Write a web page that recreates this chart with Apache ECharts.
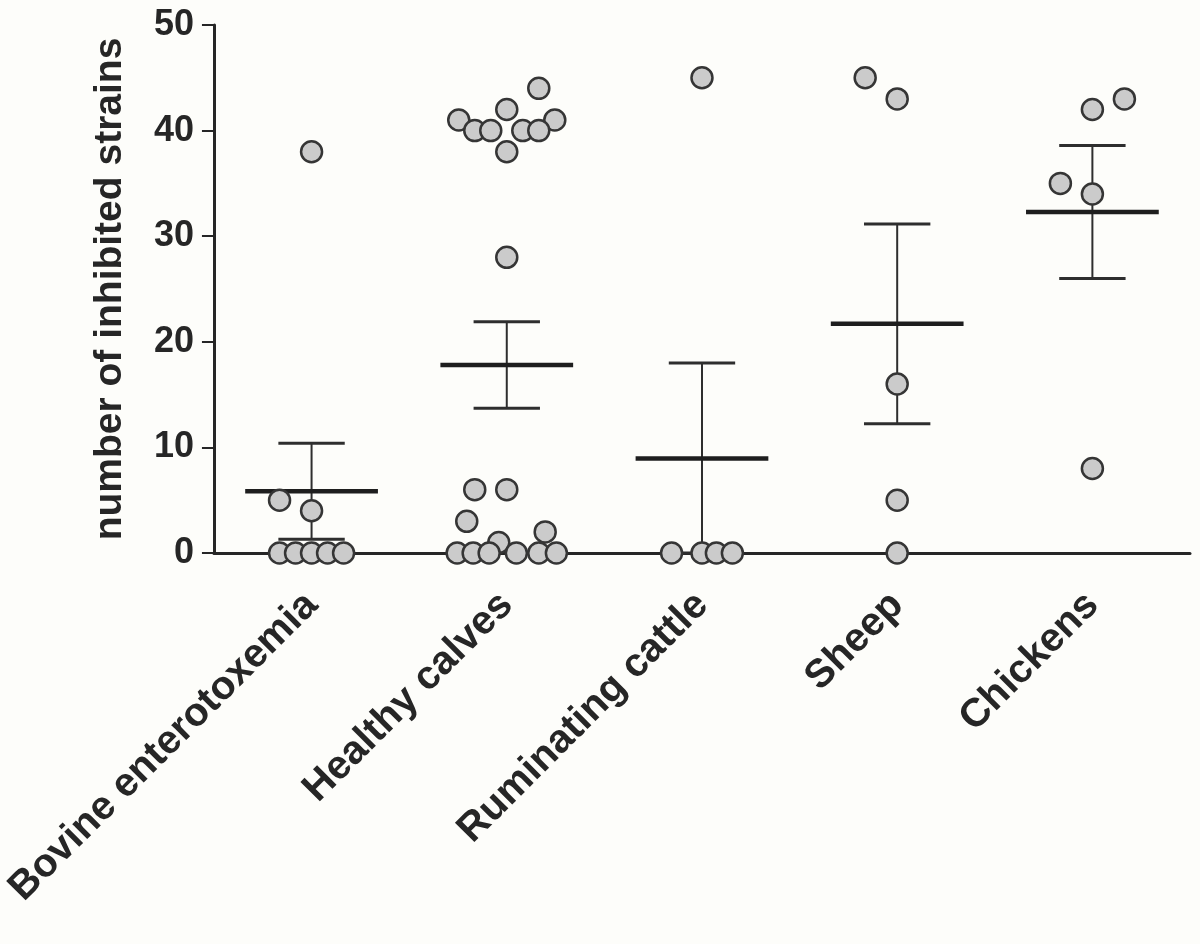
<!DOCTYPE html>
<html>
<head>
<meta charset="utf-8">
<title>Inhibited strains</title>
<script src="https://cdn.jsdelivr.net/npm/echarts@6/dist/echarts.min.js"></script>
<style>
  html, body { margin: 0; padding: 0; background: #fdfdfa; }
  #main { width: 1200px; height: 944px; }
</style>
</head>
<body>
<div id="main"></div>
<script>
// categories on the x axis
const categories = ['Bovine enterotoxemia', 'Healthy calves', 'Ruminating cattle', 'Sheep', 'Chickens']

// y axis range
const yMin = 0
const yMax = 50
const yStep = 10

// individual values per group, and where each dot sits sideways (in dot widths)
const bovineValues = [38, 5, 4, 0, 0, 0, 0, 0]
const bovineSlots = [0, -2, 0, -2, -1, 0, 1, 2]

const calvesValues = [44, 42, 41, 41, 40, 40, 40, 40, 38, 28, 6, 6, 3, 2, 1, 0, 0, 0, 0, 0, 0]
const calvesSlots = [2, 0, -3, 3, -2, -1, 1, 2, 0, 0, -2, 0, -2.5, 2.4, -0.5, -3.1, -2.1, -1.1, 0.6, 2, 3.1]

const cattleValues = [45, 0, 0, 0, 0]
const cattleSlots = [0, -1.9, 0, 0.9, 1.9]

const sheepValues = [45, 43, 16, 5, 0]
const sheepSlots = [-2, 0, 0, 0, 0]

const chickenValues = [43, 42, 35, 34, 8]
const chickenSlots = [2, 0, -2, 0, 0]

// mean and SEM per group, as drawn
const means = [5.85, 17.8, 8.95, 21.7, 32.3]
const sems = [4.55, 4.1, 9.05, 9.45, 6.3]

const groups = [
  [bovineValues, bovineSlots],
  [calvesValues, calvesSlots],
  [cattleValues, cattleSlots],
  [sheepValues, sheepSlots],
  [chickenValues, chickenSlots]
]

const dotStep = 0.082 // one dot width in category units
const points = []
groups.forEach((g, i) => {
  g[0].forEach((v, j) => {
    points.push([i + g[1][j] * dotStep, v])
  })
})

const errorData = means.map((m, i) => [i, m, sems[i]])

const textColor = '#262626'
const lineColor = '#262626'
const fontFamily = 'Liberation Sans, Arial, sans-serif'

const chart = echarts.init(document.getElementById('main'))
chart.setOption({
  backgroundColor: '#fdfdfa',
  animation: false,
  grid: { left: 212, right: 10, top: 25, bottom: 391 },
  xAxis: [
    {
      type: 'category',
      data: categories,
      boundaryGap: true,
      axisLine: { lineStyle: { color: lineColor, width: 3 } },
      axisTick: { alignWithLabel: true, length: 14, lineStyle: { color: lineColor, width: 2 } },
      axisLabel: {
        rotate: 45,
        margin: 46,
        color: textColor,
        fontSize: 40,
        fontWeight: 'bold',
        fontFamily: fontFamily
      },
      splitLine: { show: false }
    },
    {
      type: 'value',
      min: -0.5,
      max: 4.5,
      show: false,
      splitLine: { show: false }
    }
  ],
  yAxis: {
    type: 'value',
    min: yMin,
    max: yMax,
    interval: yStep,
    name: 'number of inhibited strains',
    nameLocation: 'middle',
    nameGap: 84,
    nameTextStyle: { color: textColor, fontSize: 39, fontFamily: fontFamily, fontWeight: 'bold' },
    axisLine: { show: true, onZero: false, lineStyle: { color: lineColor, width: 3 } },
    axisTick: { show: true, length: 12, lineStyle: { color: lineColor, width: 2 } },
    axisLabel: {
      margin: 20,
      color: textColor,
      fontSize: 36,
      fontWeight: 'bold',
      fontFamily: fontFamily
    },
    splitLine: { show: false }
  },
  series: [
    {
      // mean line with SEM error bar
      type: 'custom',
      xAxisIndex: 1,
      data: errorData,
      z: 2,
      renderItem: function (params, api) {
        const idx = api.value(0)
        const mean = api.value(1)
        const sem = api.value(2)
        const c = api.coord([idx, mean])
        const top = api.coord([idx, mean + sem])
        const bottom = api.coord([idx, Math.max(yMin, mean - sem)])
        const capHalf = api.size([0.17, 0])[0]
        const meanHalf = api.size([0.34, 0])[0]
        const style = { stroke: '#2e2e2e', lineWidth: 2 }
        return {
          type: 'group',
          children: [
            { type: 'line', shape: { x1: c[0], y1: top[1], x2: c[0], y2: bottom[1] }, style: style },
            { type: 'line', shape: { x1: c[0] - capHalf, y1: top[1], x2: c[0] + capHalf, y2: top[1] }, style: { stroke: '#2e2e2e', lineWidth: 3 } },
            { type: 'line', shape: { x1: c[0] - capHalf, y1: bottom[1], x2: c[0] + capHalf, y2: bottom[1] }, style: { stroke: '#2e2e2e', lineWidth: 3 } },
            { type: 'line', shape: { x1: c[0] - meanHalf, y1: c[1], x2: c[0] + meanHalf, y2: c[1] }, style: { stroke: '#1e1e1e', lineWidth: 4.5 } }
          ]
        }
      }
    },
    {
      type: 'scatter',
      xAxisIndex: 1,
      data: points,
      z: 3,
      symbol: 'circle',
      symbolSize: 21,
      itemStyle: {
        color: '#cbcbcb',
        borderColor: '#353535',
        borderWidth: 2.5,
        opacity: 1
      }
    }
  ]
})
</script>
</body>
</html>
